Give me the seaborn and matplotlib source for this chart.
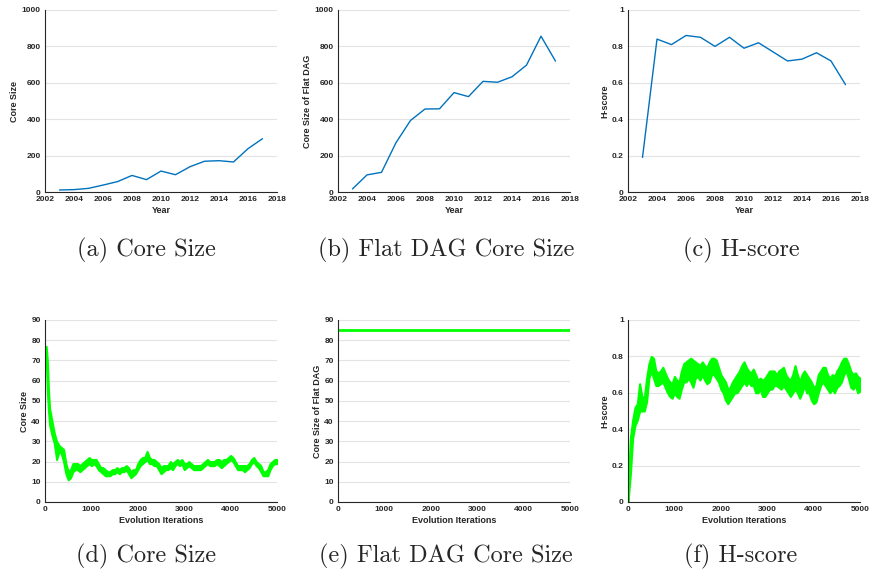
import numpy as np
import pandas as pd
import seaborn as sns
import matplotlib.pyplot as plt

years = list(range(2003, 2018))
core_size = [11, 13, 20, 38, 57, 91, 68, 115, 95, 139, 169, 172, 165, 238, 293]
flat_core_size = [17, 94, 108, 271, 393, 456, 457, 546, 524, 608, 603, 633, 697, 856, 719]
hscore_year = [0.19, 0.84, 0.81, 0.86, 0.85, 0.80, 0.85, 0.79, 0.82, 0.77, 0.72, 0.73, 0.765, 0.72, 0.59]

# evolution runs: lower / upper edge of the noisy band
it_d = [0, 25, 50, 75] + list(range(100, 5001, 50))
core_lo = [70, 72, 55, 45, 38, 33, 29, 21, 25, 24, 20, 14, 11, 12, 15, 16, 16, 15, 16, 17,
           18, 19, 18, 19, 18, 16, 15, 14, 13, 13, 13, 14, 14, 15, 14, 15, 15, 16, 14, 12,
           13, 14, 16, 18, 19, 20, 21, 19, 19, 18, 18, 16, 14, 15, 16, 16, 17, 16, 18, 19,
           18, 19, 16, 17, 18, 17, 16, 16, 16, 16, 17, 18, 19, 18, 18, 18, 19, 18, 17, 18,
           19, 20, 21, 20, 18, 16, 16, 16, 15, 16, 17, 19, 20, 18, 17, 15, 13, 13, 13, 16,
           18, 19, 19]
core_hi = [77, 77, 70, 55, 46, 40, 34, 30, 28, 27, 26, 19, 15, 16, 19, 19, 19, 18, 19, 20,
           21, 22, 21, 21, 21, 19, 17, 17, 16, 15, 15, 16, 16, 17, 16, 17, 17, 18, 17, 15,
           16, 16, 19, 21, 22, 22, 25, 22, 21, 21, 20, 19, 17, 18, 18, 18, 20, 19, 20, 21,
           20, 21, 19, 19, 20, 19, 18, 18, 18, 18, 19, 20, 21, 20, 20, 20, 21, 21, 20, 21,
           21, 22, 23, 22, 20, 18, 18, 18, 18, 18, 19, 21, 22, 20, 19, 18, 15, 15, 16, 19,
           20, 21, 21]

it_f = list(range(0, 5001, 50))
h_lo = [0.00, 0.15, 0.35, 0.42, 0.45, 0.50, 0.50, 0.50, 0.55, 0.68, 0.72, 0.68, 0.64, 0.64,
        0.65, 0.66, 0.63, 0.60, 0.58, 0.57, 0.60, 0.58, 0.57, 0.62, 0.66, 0.66, 0.68, 0.66,
        0.63, 0.68, 0.69, 0.67, 0.70, 0.67, 0.65, 0.66, 0.70, 0.70, 0.68, 0.66, 0.62, 0.60,
        0.56, 0.54, 0.56, 0.58, 0.60, 0.60, 0.62, 0.64, 0.66, 0.64, 0.66, 0.64, 0.64, 0.60,
        0.60, 0.62, 0.58, 0.58, 0.60, 0.62, 0.62, 0.64, 0.64, 0.63, 0.62, 0.64, 0.62, 0.60,
        0.58, 0.60, 0.62, 0.60, 0.57, 0.60, 0.64, 0.60, 0.60, 0.56, 0.54, 0.55, 0.60, 0.64,
        0.66, 0.64, 0.62, 0.60, 0.62, 0.60, 0.63, 0.64, 0.66, 0.70, 0.72, 0.68, 0.63, 0.62,
        0.64, 0.60, 0.61]
h_hi = [0.05, 0.35, 0.45, 0.52, 0.54, 0.65, 0.58, 0.57, 0.68, 0.76, 0.80, 0.79, 0.72, 0.71,
        0.72, 0.74, 0.71, 0.68, 0.66, 0.65, 0.69, 0.67, 0.66, 0.72, 0.76, 0.77, 0.78, 0.79,
        0.78, 0.77, 0.76, 0.75, 0.77, 0.75, 0.74, 0.77, 0.79, 0.79, 0.78, 0.74, 0.70, 0.68,
        0.66, 0.62, 0.63, 0.66, 0.68, 0.70, 0.72, 0.75, 0.77, 0.74, 0.72, 0.71, 0.73, 0.70,
        0.67, 0.68, 0.67, 0.68, 0.70, 0.72, 0.72, 0.72, 0.70, 0.72, 0.73, 0.74, 0.70, 0.68,
        0.67, 0.70, 0.75, 0.70, 0.66, 0.70, 0.72, 0.70, 0.68, 0.66, 0.63, 0.64, 0.70, 0.72,
        0.74, 0.74, 0.70, 0.68, 0.70, 0.69, 0.72, 0.74, 0.77, 0.79, 0.79, 0.76, 0.72, 0.70,
        0.71, 0.69, 0.68]

flat_const = [85, 85]
it_e = [0, 5000]

captions = ["(a) Core Size", "(b) Flat DAG Core Size", "(c) H-score",
            "(d) Core Size", "(e) Flat DAG Core Size", "(f) H-score"]

sns.set_style("white")
plt.rcParams['font.family'] = ['Liberation Sans', 'DejaVu Sans']
plt.rcParams['font.weight'] = 'bold'
plt.rcParams['axes.labelweight'] = 'bold'

blue = '#0072BD'
green = '#00FF00'

fig = plt.figure(figsize=(8.7, 5.77), dpi=100)
lefts = [45 / 870, 338 / 870, 628 / 870]
w = 232 / 870
h = 182 / 577
axs = [fig.add_axes([l, 1 - 192 / 577, w, h]) for l in lefts] + \
      [fig.add_axes([l, 1 - 502 / 577, w, h]) for l in lefts]


def style(ax, ylim, yticks, xlim, xticks, ylabel, xlabel):
    ax.set_xlim(*xlim)
    ax.set_ylim(*ylim)
    ax.set_xticks(xticks)
    ax.set_yticks(yticks)
    ax.set_ylabel(ylabel, fontsize=6.5, labelpad=2)
    ax.set_xlabel(xlabel, fontsize=6.5, labelpad=2)
    ax.tick_params(direction='in', length=2.5, width=0.8, labelsize=6, pad=3,
                   colors='#262626', labelcolor='#262626')
    ax.yaxis.grid(True, color='#e3e3e3', linewidth=0.8)
    ax.set_axisbelow(True)
    for s in ['top', 'right']:
        ax.spines[s].set_visible(False)
    for s in ['left', 'bottom']:
        ax.spines[s].set_color('#262626')
        ax.spines[s].set_linewidth(0.8)


yr_ticks = list(range(2002, 2019, 2))
sns.lineplot(x=years, y=core_size, ax=axs[0], color=blue, linewidth=1)
style(axs[0], (0, 1000), range(0, 1001, 200), (2002, 2018), yr_ticks, 'Core Size', 'Year')
sns.lineplot(x=years, y=flat_core_size, ax=axs[1], color=blue, linewidth=1)
style(axs[1], (0, 1000), range(0, 1001, 200), (2002, 2018), yr_ticks, 'Core Size of Flat DAG', 'Year')
sns.lineplot(x=years, y=hscore_year, ax=axs[2], color=blue, linewidth=1)
style(axs[2], (0, 1), [0, 0.2, 0.4, 0.6, 0.8, 1], (2002, 2018), yr_ticks, 'H-score', 'Year')
axs[2].set_yticklabels(['0', '0.2', '0.4', '0.6', '0.8', '1'])

it_ticks = list(range(0, 5001, 1000))
axs[3].fill_between(it_d, core_lo, core_hi, color=green, linewidth=1.5, edgecolor=green)
style(axs[3], (0, 90), range(0, 91, 10), (0, 5000), it_ticks, 'Core Size', 'Evolution Iterations')
sns.lineplot(x=it_e, y=flat_const, ax=axs[4], color=green, linewidth=2)
style(axs[4], (0, 90), range(0, 91, 10), (0, 5000), it_ticks, 'Core Size of Flat DAG', 'Evolution Iterations')
axs[5].fill_between(it_f, h_lo, h_hi, color=green, linewidth=1.5, edgecolor=green)
style(axs[5], (0, 1), [0, 0.2, 0.4, 0.6, 0.8, 1], (0, 5000), it_ticks, 'H-score', 'Evolution Iterations')
axs[5].set_yticklabels(['0', '0.2', '0.4', '0.6', '0.8', '1'])

cap_x = [146 / 870, 446 / 870, 741 / 870]
for i, cap in enumerate(captions):
    y = 1 - 250 / 577 if i < 3 else 1 - 556 / 577
    fig.text(cap_x[i % 3], y, cap, ha='center', va='center', fontsize=17.5,
             family='cmr10', fontweight='normal')

fig.savefig('out.png', dpi=100)
